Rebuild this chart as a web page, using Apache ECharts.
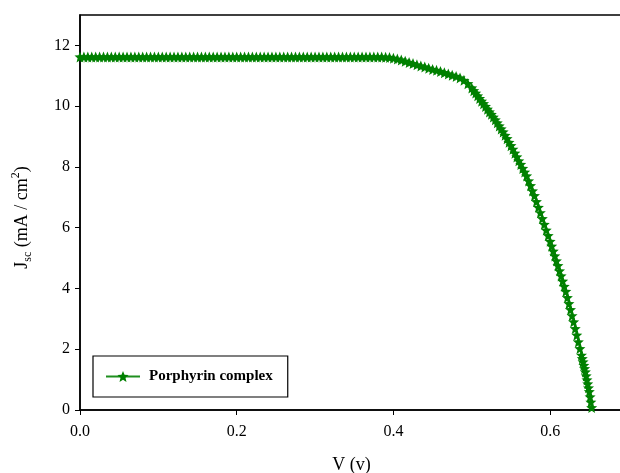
<!DOCTYPE html>
<html><head><meta charset="utf-8">
<script src="https://cdn.jsdelivr.net/npm/echarts@6/dist/echarts.min.js"></script>
<style>html,body{margin:0;padding:0;background:#fff}#c{width:620px;height:473px}</style>
</head><body><div id="c"></div>
<script>
const seriesName = 'Porphyrin complex';
const xTicks = [0, 0.2, 0.4, 0.6];
const yTicks = [0, 2, 4, 6, 8, 10, 12];
const voltage = [
  0,0.005,0.01,0.015,0.02,0.025,0.03,0.035,0.04,0.045,
  0.05,0.055,0.06,0.065,0.07,0.075,0.08,0.085,0.09,0.095,
  0.1,0.105,0.11,0.115,0.12,0.125,0.13,0.135,0.14,0.145,
  0.15,0.155,0.16,0.165,0.17,0.175,0.18,0.185,0.19,0.195,
  0.2,0.205,0.21,0.215,0.22,0.225,0.23,0.235,0.24,0.245,
  0.25,0.255,0.26,0.265,0.27,0.275,0.28,0.285,0.29,0.295,
  0.3,0.305,0.31,0.315,0.32,0.325,0.33,0.335,0.34,0.345,
  0.35,0.355,0.36,0.365,0.37,0.375,0.38,
  0.385,0.39,0.395,0.4,0.405,0.41,0.415,0.42,0.425,0.43,
  0.435,0.44,0.445,0.45,0.455,0.46,0.465,0.47,0.475,0.48,
  0.485,0.49,0.495,0.5,
  0.5025,0.505,0.5075,0.51,0.5125,0.515,0.5175,0.52,0.5225,0.525,
  0.5275,0.53,0.5325,0.535,0.5375,0.54,0.5425,0.545,0.5475,0.55,
  0.5525,0.555,0.5575,0.56,0.5625,0.565,0.5675,0.57,0.5725,0.575,
  0.5775,0.58,0.5825,0.585,0.5875,0.59,0.5925,0.595,0.5975,0.6,
  0.602,0.604,0.606,0.608,0.61,0.612,0.614,0.616,0.618,0.62,
  0.622,0.624,0.626,0.628,0.63,0.632,0.634,0.636,0.638,0.64,
  0.641,0.642,0.643,0.644,0.645,0.646,0.647,0.648,0.649,0.65,
  0.651,0.652,0.653
];
const currentDensity = [
  11.62,11.62,11.62,11.62,11.62,11.62,11.62,11.62,11.62,11.62,
  11.62,11.62,11.62,11.62,11.62,11.62,11.62,11.62,11.62,11.62,
  11.62,11.62,11.62,11.62,11.62,11.62,11.62,11.62,11.62,11.62,
  11.62,11.62,11.62,11.62,11.62,11.62,11.62,11.62,11.62,11.62,
  11.62,11.62,11.62,11.62,11.62,11.62,11.62,11.62,11.62,11.62,
  11.62,11.62,11.62,11.62,11.62,11.62,11.62,11.62,11.62,11.62,
  11.62,11.62,11.62,11.62,11.62,11.62,11.62,11.62,11.62,11.62,
  11.62,11.62,11.62,11.62,11.62,11.62,11.62,
  11.62,11.61,11.60,11.58,11.55,11.52,11.48,11.44,11.40,11.36,
  11.32,11.29,11.25,11.21,11.18,11.14,11.10,11.06,11.02,10.98,
  10.93,10.85,10.74,10.60,
  10.51,10.43,10.34,10.25,10.16,10.08,9.99,9.90,9.81,9.73,
  9.64,9.55,9.45,9.35,9.25,9.15,9.04,8.93,8.81,8.70,
  8.58,8.45,8.33,8.20,8.08,7.95,7.83,7.70,7.54,7.38,
  7.21,7.05,6.86,6.67,6.49,6.30,6.11,5.92,5.74,5.55,
  5.39,5.23,5.07,4.91,4.75,4.58,4.41,4.24,4.07,3.90,
  3.70,3.50,3.30,3.10,2.90,2.68,2.46,2.24,2.02,1.80,
  1.69,1.58,1.47,1.36,1.25,1.12,0.99,0.86,0.73,0.60,
  0.43,0.26,0.08
];

const chart = echarts.init(document.getElementById('c'), null, {renderer: 'canvas'});
const font = '"Liberation Serif", "Times New Roman", serif';
const star = 'path://M50,0 L63,32 L98,34 L71,57 L80,92 L50,73 L20,92 L29,57 L2,34 L37,32 Z';
const data = voltage.map((v, i) => [v, currentDensity[i]]);

chart.setOption({
  animation: false,
  backgroundColor: '#fff',
  grid: {left: 80, right: -3, top: 15, bottom: 63, outerBoundsMode: 'none', containLabel: false,
         show: true, borderColor: '#000', borderWidth: 1.5, backgroundColor: 'transparent'},
  legend: {
    left: 93, top: 356, orient: 'horizontal',
    padding: [13, 15, 13, 12],
    borderColor: '#000', borderWidth: 1.2, backgroundColor: '#fff',
    itemWidth: 34, itemHeight: 14, itemGap: 0,
    textStyle: {fontFamily: font, fontSize: 15, fontWeight: 'bold', color: '#000', padding: [0, 0, 0, 4]},
    data: [{name: seriesName}]
  },
  xAxis: {
    type: 'value', min: 0, max: 0.693,
    name: 'V (v)', nameLocation: 'middle', nameGap: 46,
    nameTextStyle: {fontFamily: font, fontSize: 18, color: '#000'},
    axisLine: {show: true, lineStyle: {color: '#000', width: 1.5}},
    axisTick: {show: true, length: 5, customValues: xTicks, lineStyle: {color: '#000', width: 1}},
    axisLabel: {customValues: xTicks, formatter: v => v.toFixed(1), margin: 14, fontFamily: font, fontSize: 16, color: '#000'},
    splitLine: {show: false}
  },
  yAxis: {
    type: 'value', min: 0, max: 13,
    name: '{n|J}{sub|sc}{n| (mA / cm}{sup|2}{n|)}',
    nameLocation: 'middle', nameGap: 46,
    nameTextStyle: {
      fontFamily: font, fontSize: 18, color: '#000', padding: [0, 10, 0, 0],
      rich: {
        n: {fontFamily: font, fontSize: 18, color: '#000', lineHeight: 24},
        sub: {fontFamily: font, fontSize: 12, color: '#000', lineHeight: 12, verticalAlign: 'bottom'},
        sup: {fontFamily: font, fontSize: 12, color: '#000', lineHeight: 12, verticalAlign: 'top'}
      }
    },
    axisLine: {show: true, lineStyle: {color: '#000', width: 1.5}},
    axisTick: {show: true, length: 5, customValues: yTicks, lineStyle: {color: '#000', width: 1}},
    axisLabel: {customValues: yTicks, margin: 10, fontFamily: font, fontSize: 16, color: '#000'},
    splitLine: {show: false}
  },
  series: [{
    name: seriesName, type: 'line', data: data,
    symbol: star, symbolSize: 11, showSymbol: true,
    itemStyle: {color: '#008000'},
    lineStyle: {color: '#1f8f1f', width: 1.5},
    clip: false
  }]
});
</script>
</body></html>
